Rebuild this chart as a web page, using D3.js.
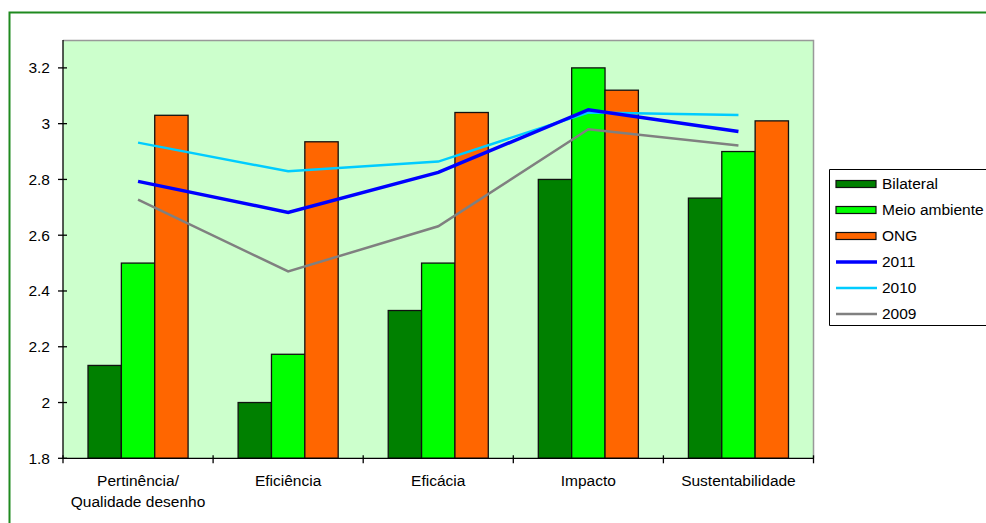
<!DOCTYPE html>
<html>
<head>
<meta charset="utf-8">
<script src="https://cdn.jsdelivr.net/npm/d3@7/dist/d3.min.js"></script>
<style>
html,body{margin:0;padding:0;background:#fff;}
svg{display:block;}
text{font-family:"Liberation Sans",Arial,sans-serif;fill:#000;}
</style>
</head>
<body>
<svg id="chart" width="986" height="523"></svg>
<script>
const categories = [["Pertinência/","Qualidade desenho"],["Eficiência"],["Eficácia"],["Impacto"],["Sustentabilidade"]];
const catKeys = categories.map(c => c.join(" "));
const barSeries = ["Bilateral","Meio ambiente","ONG"];
const bilateral = [2.133, 2.0, 2.33, 2.8, 2.733];
const meioAmbiente = [2.5, 2.173, 2.5, 3.2, 2.9];
const ong = [3.03, 2.935, 3.04, 3.12, 3.01];
const lineSeries = ["2011","2010","2009"];
const y2011 = [2.793, 2.682, 2.825, 3.05, 2.972];
const y2010 = [2.932, 2.829, 2.864, 3.04, 3.031];
const y2009 = [2.728, 2.47, 2.632, 2.98, 2.922];
const yTicks = [1.8, 2, 2.2, 2.4, 2.6, 2.8, 3, 3.2];

const barColors = ["#008000","#00ff00","#ff6600"];
const lineColors = ["#0000ff","#00ccff","#808080"];
const lineWidths = [3.5, 2.5, 2.5];

const svg = d3.select("#chart");
const L = 63, R = 813.5, T = 40, B = 458.3;
const FS = 15.5;

// outer border
svg.append("path").attr("d", `M9.5,523 L9.5,12.5 L986,12.5`)
  .attr("fill","none").attr("stroke","#1f8a1f").attr("stroke-width",2);

const x0 = d3.scaleBand().domain(catKeys).range([L, R]).paddingInner(1/3).paddingOuter(1/6);
const x1 = d3.scaleBand().domain(barSeries).range([0, x0.bandwidth()]);
const y = d3.scaleLinear().domain([1.8, 3.3]).range([B, T]);

// plot area
svg.append("rect").attr("x",L).attr("y",T).attr("width",R-L).attr("height",B-T).attr("fill","#ccffcc");
svg.append("path").attr("d",`M${L},${T+0.5} L${R},${T+0.5} L${R},${B}`)
  .attr("fill","none").attr("stroke","#999").attr("stroke-width",1.5);

// bars
const barData = [bilateral, meioAmbiente, ong];
barData.forEach((vals, si) => {
  svg.append("g").selectAll("rect").data(vals).join("rect")
    .attr("x", (d,i) => x0(catKeys[i]) + x1(barSeries[si]))
    .attr("y", d => y(d))
    .attr("width", x1.bandwidth())
    .attr("height", d => y(1.8) - y(d))
    .attr("fill", barColors[si])
    .attr("stroke", "#111")
    .attr("stroke-width", 1.3);
});

// lines
const lineData = [y2011, y2010, y2009];
const lineGen = d3.line().x((d,i) => x0(catKeys[i]) + x0.bandwidth()/2).y(d => y(d));
[2,1,0].forEach(si => {
  svg.append("path").datum(lineData[si]).attr("d", lineGen)
    .attr("fill","none").attr("stroke", lineColors[si]).attr("stroke-width", lineWidths[si])
    .attr("stroke-linejoin","miter");
});

// y axis
const yAxis = svg.append("g");
yAxis.append("line").attr("x1",L).attr("x2",L).attr("y1",T).attr("y2",B).attr("stroke","#000").attr("stroke-width",1.3);
yAxis.selectAll("line.t").data(yTicks).join("line").attr("class","t")
  .attr("x1",L-5).attr("x2",L+4).attr("y1",d=>y(d)).attr("y2",d=>y(d)).attr("stroke","#000").attr("stroke-width",1.3);
yAxis.selectAll("text").data(yTicks).join("text")
  .attr("x", 50).attr("y", d => y(d)).attr("dy","0.35em").attr("text-anchor","end")
  .attr("font-size",FS).text(d => d3.format("")(d));

// x axis
const xAxis = svg.append("g");
xAxis.append("line").attr("x1",L).attr("x2",R).attr("y1",B).attr("y2",B).attr("stroke","#000").attr("stroke-width",1.3);
const boundaries = catKeys.map(k => x0(k) - x0.step()*x0.paddingInner()/2 ).concat([R]);
boundaries[0] = L;
xAxis.selectAll("line.t").data(boundaries).join("line").attr("class","t")
  .attr("x1",d=>d).attr("x2",d=>d).attr("y1",B-3).attr("y2",B+5).attr("stroke","#000").attr("stroke-width",1.3);
categories.forEach((lines, i) => {
  const t = xAxis.append("text").attr("x", x0(catKeys[i]) + x0.bandwidth()/2).attr("y", 486)
    .attr("text-anchor","middle").attr("font-size",FS);
  lines.forEach((ln, j) => t.append("tspan").attr("x", x0(catKeys[i]) + x0.bandwidth()/2).attr("dy", j ? 20.5 : 0).text(ln));
});

// legend
const lg = svg.append("g");
lg.append("path").attr("d","M986,169.5 L829.5,169.5 L829.5,325.5 L986,325.5").attr("fill","#fff").attr("stroke","#000").attr("stroke-width",1);
const legItems = barSeries.map((s,i)=>({name:s,type:"bar",color:barColors[i]}))
  .concat(lineSeries.map((s,i)=>({name:s,type:"line",color:lineColors[i],w:lineWidths[i]})));
legItems.forEach((it, i) => {
  const cy = 184 + i*26;
  if (it.type === "bar") {
    lg.append("rect").attr("x",836).attr("y",cy-3.5).attr("width",40).attr("height",7)
      .attr("fill",it.color).attr("stroke","#111").attr("stroke-width",1.2);
  } else {
    lg.append("line").attr("x1",836).attr("x2",877).attr("y1",cy).attr("y2",cy)
      .attr("stroke",it.color).attr("stroke-width",it.w);
  }
  lg.append("text").attr("x",882).attr("y",cy).attr("dy","0.35em").attr("font-size",FS).text(it.name);
});
</script>
</body>
</html>
